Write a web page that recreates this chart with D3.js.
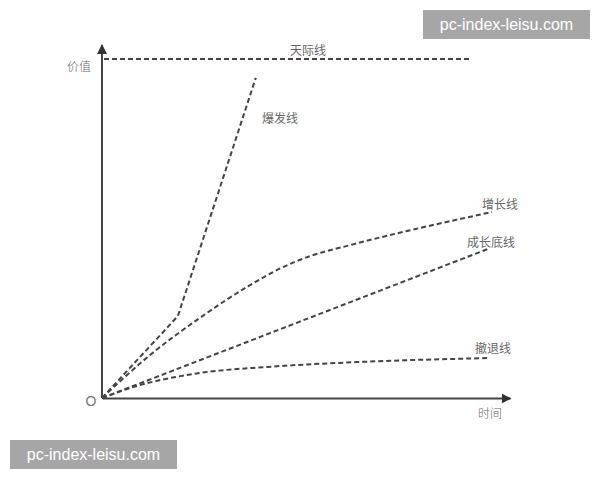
<!DOCTYPE html>
<html><head><meta charset="utf-8">
<script src="https://cdn.jsdelivr.net/npm/d3@7"></script>
<style>body{margin:0;background:#fff;}svg{display:block;}</style>
</head><body>
<svg id="c" width="600" height="480"></svg>
<script>
// data (abstract units: time 0..100, value 0..100)
const skyLine = [[0.5, 96], [90.5, 96]];
const burstLine = [[0, 0], [18.6, 23.2], [37.7, 90.7]];
const growthLine = [[0, 0], [11.8, 12.2], [24, 22.7], [36.3, 32], [44.4, 37.1], [51, 40.2], [60.8, 43.3], [95.6, 52.7]];
const baseLine = [[0, 0], [95, 42.4]];
const retreatLine = [[0, 0], [7.4, 3], [24, 7.1], [40.5, 8.8], [63, 10.2], [94.4, 11.3]];
const lineNames = ["天际线", "爆发线", "增长线", "成长底线", "撤退线"];
const axisNames = ["价值", "时间", "O"];
const watermark = "pc-index-leisu.com";

const svg = d3.select("#c");
const x = d3.scaleLinear().domain([0, 100]).range([102, 510]);
const y = d3.scaleLinear().domain([0, 100]).range([398, 45]);

const defs = svg.append("defs");
defs.append("marker").attr("id", "arr").attr("viewBox", "0 0 10 10")
  .attr("refX", 9).attr("refY", 5).attr("markerWidth", 10).attr("markerHeight", 10)
  .attr("markerUnits", "userSpaceOnUse").attr("orient", "auto")
  .append("path").attr("d", "M0,0 L10,5 L0,10 Z").attr("fill", "#333");

// axes
const gx = svg.append("g").attr("transform", `translate(0,${y(0)})`)
  .call(d3.axisBottom(x).tickValues([]).tickSizeOuter(0));
gx.select(".domain").attr("stroke", "#444").attr("stroke-width", 2).attr("marker-end", "url(#arr)");
const gy = svg.append("g").attr("transform", `translate(${x(0)},0)`)
  .call(d3.axisLeft(y).tickValues([]).tickSizeOuter(0));
gy.select(".domain").attr("stroke", "#444").attr("stroke-width", 2)
  .attr("d", `M0,${y(0)}V${y(100)}`).attr("marker-end", "url(#arr)");

// lines
const straight = d3.line().x(d => x(d[0])).y(d => y(d[1]));
const smooth = d3.line().x(d => x(d[0])).y(d => y(d[1])).curve(d3.curveMonotoneX);
const series = [
  {d: skyLine, gen: straight},
  {d: burstLine, gen: straight},
  {d: growthLine, gen: smooth},
  {d: baseLine, gen: straight},
  {d: retreatLine, gen: smooth}
];
svg.append("g").selectAll("path").data(series).join("path")
  .attr("d", s => s.gen(s.d)).attr("fill", "none")
  .attr("stroke", "#444").attr("stroke-width", 2).attr("stroke-dasharray", "5,3");

// labels
const font = "'Noto Sans CJK SC', 'Noto Sans', sans-serif";
const labelPos = [[308, 49], [280, 117], [500, 203], [491, 241], [493, 347]];
svg.append("g").selectAll("text").data(lineNames).join("text")
  .attr("x", (d, i) => labelPos[i][0]).attr("y", (d, i) => labelPos[i][1])
  .attr("text-anchor", "middle").attr("dominant-baseline", "central")
  .attr("font-family", font).attr("font-size", 12).attr("fill", "#666").text(d => d);
const axisPos = [[79, 65], [490, 412], [91, 401]];
svg.append("g").selectAll("text").data(axisNames).join("text")
  .attr("x", (d, i) => axisPos[i][0]).attr("y", (d, i) => axisPos[i][1])
  .attr("text-anchor", "middle").attr("dominant-baseline", "central")
  .attr("font-family", (d, i) => i === 2 ? "'Liberation Sans', sans-serif" : font)
  .attr("font-weight", (d, i) => i === 2 ? 400 : 300)
  .attr("font-size", (d, i) => i === 2 ? 14 : 12)
  .attr("fill", (d, i) => i === 2 ? "#777" : "#666").text(d => d);

// watermarks
const wm = [[423, 10, 167, 29], [10, 440, 167, 29]];
wm.forEach(b => {
  svg.append("rect").attr("x", b[0]).attr("y", b[1]).attr("width", b[2]).attr("height", b[3]).attr("fill", "#a6a6a6");
  svg.append("text").attr("x", b[0] + b[2] / 2).attr("y", b[1] + b[3] / 2)
    .attr("text-anchor", "middle").attr("dominant-baseline", "central")
    .attr("font-family", "'Liberation Sans', Arial, sans-serif").attr("font-size", 16)
    .attr("fill", "#fff").text(watermark);
});
</script>
</body></html>
